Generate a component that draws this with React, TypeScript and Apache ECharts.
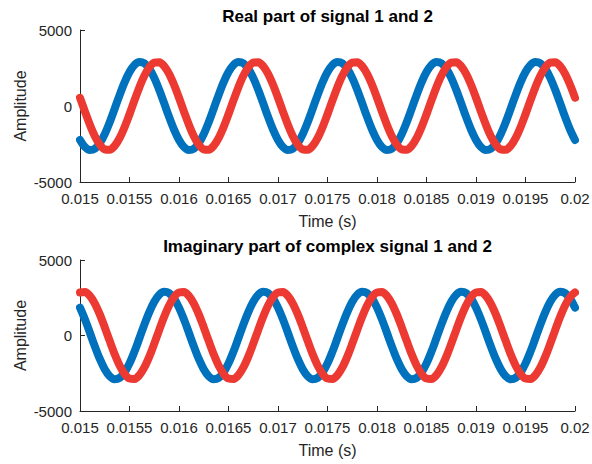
import React, { useEffect, useRef } from "react";
import * as echarts from "echarts";

// Time samples (s)
const TIME: number[] = [
  0.015, 0.01505, 0.0151, 0.01515, 0.0152, 0.01525, 0.0153, 0.01535, 0.0154, 0.01545,
  0.0155, 0.01555, 0.0156, 0.01565, 0.0157, 0.01575, 0.0158, 0.01585, 0.0159, 0.01595,
  0.016, 0.01605, 0.0161, 0.01615, 0.0162, 0.01625, 0.0163, 0.01635, 0.0164, 0.01645,
  0.0165, 0.01655, 0.0166, 0.01665, 0.0167, 0.01675, 0.0168, 0.01685, 0.0169, 0.01695,
  0.017, 0.01705, 0.0171, 0.01715, 0.0172, 0.01725, 0.0173, 0.01735, 0.0174, 0.01745,
  0.0175, 0.01755, 0.0176, 0.01765, 0.0177, 0.01775, 0.0178, 0.01785, 0.0179, 0.01795,
  0.018, 0.01805, 0.0181, 0.01815, 0.0182, 0.01825, 0.0183, 0.01835, 0.0184, 0.01845,
  0.0185, 0.01855, 0.0186, 0.01865, 0.0187, 0.01875, 0.0188, 0.01885, 0.0189, 0.01895,
  0.019, 0.01905, 0.0191, 0.01915, 0.0192, 0.01925, 0.0193, 0.01935, 0.0194, 0.01945,
  0.0195, 0.01955, 0.0196, 0.01965, 0.0197, 0.01975, 0.0198, 0.01985, 0.0199, 0.01995,
  0.02,
];

// Real part, signal 1 (blue)
const REAL_1: number[] = [
  -2234, -2696, -2894, -2809, -2448, -1848, -1067, -182, 721, 1554,
  2234, 2696, 2894, 2809, 2448, 1848, 1067, 182, -721, -1554,
  -2234, -2696, -2894, -2809, -2448, -1848, -1067, -182, 721, 1554,
  2234, 2696, 2894, 2809, 2448, 1848, 1067, 182, -721, -1554,
  -2234, -2696, -2894, -2809, -2448, -1848, -1067, -182, 721, 1554,
  2234, 2696, 2894, 2809, 2448, 1848, 1067, 182, -721, -1554,
  -2234, -2696, -2894, -2809, -2448, -1848, -1067, -182, 721, 1554,
  2234, 2696, 2894, 2809, 2448, 1848, 1067, 182, -721, -1554,
  -2234, -2696, -2894, -2809, -2448, -1848, -1067, -182, 721, 1554,
  2234, 2696, 2894, 2809, 2448, 1848, 1067, 182, -721, -1554,
  -2234,
];

// Real part, signal 2 (red)
const REAL_2: number[] = [
  543, -363, -1235, -1985, -2541, -2849, -2877, -2624, -2114, -1397,
  -543, 363, 1235, 1985, 2541, 2849, 2877, 2624, 2114, 1397,
  543, -363, -1235, -1985, -2541, -2849, -2877, -2624, -2114, -1397,
  -543, 363, 1235, 1985, 2541, 2849, 2877, 2624, 2114, 1397,
  543, -363, -1235, -1985, -2541, -2849, -2877, -2624, -2114, -1397,
  -543, 363, 1235, 1985, 2541, 2849, 2877, 2624, 2114, 1397,
  543, -363, -1235, -1985, -2541, -2849, -2877, -2624, -2114, -1397,
  -543, 363, 1235, 1985, 2541, 2849, 2877, 2624, 2114, 1397,
  543, -363, -1235, -1985, -2541, -2849, -2877, -2624, -2114, -1397,
  -543, 363, 1235, 1985, 2541, 2849, 2877, 2624, 2114, 1397,
  543,
];

// Imaginary part, signal 1 (blue)
const IMAG_1: number[] = [
  1848, 1067, 182, -721, -1554, -2234, -2696, -2894, -2809, -2448,
  -1848, -1067, -182, 721, 1554, 2234, 2696, 2894, 2809, 2448,
  1848, 1067, 182, -721, -1554, -2234, -2696, -2894, -2809, -2448,
  -1848, -1067, -182, 721, 1554, 2234, 2696, 2894, 2809, 2448,
  1848, 1067, 182, -721, -1554, -2234, -2696, -2894, -2809, -2448,
  -1848, -1067, -182, 721, 1554, 2234, 2696, 2894, 2809, 2448,
  1848, 1067, 182, -721, -1554, -2234, -2696, -2894, -2809, -2448,
  -1848, -1067, -182, 721, 1554, 2234, 2696, 2894, 2809, 2448,
  1848, 1067, 182, -721, -1554, -2234, -2696, -2894, -2809, -2448,
  -1848, -1067, -182, 721, 1554, 2234, 2696, 2894, 2809, 2448,
  1848,
];

// Imaginary part, signal 2 (red)
const IMAG_2: number[] = [
  2849, 2877, 2624, 2114, 1397, 543, -363, -1235, -1985, -2541,
  -2849, -2877, -2624, -2114, -1397, -543, 363, 1235, 1985, 2541,
  2849, 2877, 2624, 2114, 1397, 543, -363, -1235, -1985, -2541,
  -2849, -2877, -2624, -2114, -1397, -543, 363, 1235, 1985, 2541,
  2849, 2877, 2624, 2114, 1397, 543, -363, -1235, -1985, -2541,
  -2849, -2877, -2624, -2114, -1397, -543, 363, 1235, 1985, 2541,
  2849, 2877, 2624, 2114, 1397, 543, -363, -1235, -1985, -2541,
  -2849, -2877, -2624, -2114, -1397, -543, 363, 1235, 1985, 2541,
  2849, 2877, 2624, 2114, 1397, 543, -363, -1235, -1985, -2541,
  -2849, -2877, -2624, -2114, -1397, -543, 363, 1235, 1985, 2541,
  2849,
];

const TITLES = ["Real part of signal 1 and 2", "Imaginary part of complex signal 1 and 2"];
const X_NAME = "Time (s)";
const Y_NAME = "Amplitude";
const X_MIN = 0.015;
const X_MAX = 0.02;
const X_STEP = 0.0005;
const Y_MIN = -5000;
const Y_MAX = 5000;
const Y_STEP = 5000;

const FONT = '"Liberation Sans", Arial, Helvetica, sans-serif';
const AXIS_COLOR = "#262626";
const BLUE = "#0072BD";
const RED = "#EC3A32";

const GRIDS = [
  { left: 80, top: 30, width: 495, height: 152 },
  { left: 80, top: 260, width: 495, height: 151 },
];

function makeXAxis(gridIndex: number) {
  return {
    type: "value",
    gridIndex,
    min: X_MIN,
    max: X_MAX,
    interval: X_STEP,
    axisLine: { show: true, onZero: false, lineStyle: { color: AXIS_COLOR, width: 1 } },
    axisTick: { show: true, inside: true, length: 5, lineStyle: { color: AXIS_COLOR, width: 1 } },
    axisLabel: {
      show: true,
      margin: 9,
      color: AXIS_COLOR,
      fontSize: 15,
      fontFamily: FONT,
      showMinLabel: true,
      showMaxLabel: true,
      formatter: (v: number) => String(parseFloat(v.toFixed(6))),
    },
    splitLine: { show: false },
  };
}

function makeYAxis(gridIndex: number) {
  return {
    type: "value",
    gridIndex,
    min: Y_MIN,
    max: Y_MAX,
    interval: Y_STEP,
    axisLine: { show: true, onZero: false, lineStyle: { color: AXIS_COLOR, width: 1 } },
    axisTick: { show: true, inside: true, length: 5, lineStyle: { color: AXIS_COLOR, width: 1 } },
    axisLabel: {
      show: true,
      margin: 8,
      color: AXIS_COLOR,
      fontSize: 15,
      fontFamily: FONT,
      showMinLabel: true,
      showMaxLabel: true,
      formatter: (v: number) => String(v),
    },
    splitLine: { show: false },
  };
}

function makeSeries(values: number[], color: string, idx: number) {
  return {
    type: "line",
    xAxisIndex: idx,
    yAxisIndex: idx,
    data: TIME.map((t, i) => [t, values[i]]),
    showSymbol: false,
    symbol: "none",
    smooth: 0.35,
    clip: false,
    silent: true,
    lineStyle: { color, width: 8, cap: "round", join: "round" },
    itemStyle: { color },
  };
}

export default function App() {
  const ref = useRef<HTMLDivElement>(null);
  useEffect(() => {
    if (!ref.current) return;
    const chart = echarts.init(ref.current, undefined, { renderer: "svg", width: 592, height: 464 });
    const textStyleBase = { fontFamily: FONT };
    const graphics: any[] = [];
    GRIDS.forEach((g, i) => {
      const cx = g.left + g.width / 2;
      const cy = g.top + g.height / 2;
      graphics.push({
        type: "text",
        x: cx,
        y: g.top - 14,
        silent: true,
        style: {
          ...textStyleBase,
          text: TITLES[i],
          fontSize: 17,
          fontWeight: "bold",
          fill: "#000000",
          align: "center",
          verticalAlign: "middle",
        },
      });
      graphics.push({
        type: "text",
        x: cx,
        y: g.top + g.height + 39,
        silent: true,
        style: {
          ...textStyleBase,
          text: X_NAME,
          fontSize: 16,
          fill: AXIS_COLOR,
          align: "center",
          verticalAlign: "middle",
        },
      });
      graphics.push({
        type: "text",
        x: 20,
        y: cy,
        rotation: Math.PI / 2,
        silent: true,
        style: {
          ...textStyleBase,
          text: Y_NAME,
          fontSize: 16,
          fill: AXIS_COLOR,
          align: "center",
          verticalAlign: "middle",
        },
      });
    });

    chart.setOption({
      animation: false,
      backgroundColor: "#ffffff",
      grid: GRIDS.map((g) => ({ ...g, containLabel: false, outerBoundsMode: "none" })),
      xAxis: [makeXAxis(0), makeXAxis(1)],
      yAxis: [makeYAxis(0), makeYAxis(1)],
      series: [
        makeSeries(REAL_1, BLUE, 0),
        makeSeries(REAL_2, RED, 0),
        makeSeries(IMAG_1, BLUE, 1),
        makeSeries(IMAG_2, RED, 1),
      ],
      graphic: graphics,
    });
    return () => chart.dispose();
  }, []);
  return (
    <div
      ref={ref}
      style={{ position: "absolute", left: 0, top: 0, width: 592, height: 464, background: "#fff" }}
    />
  );
}
